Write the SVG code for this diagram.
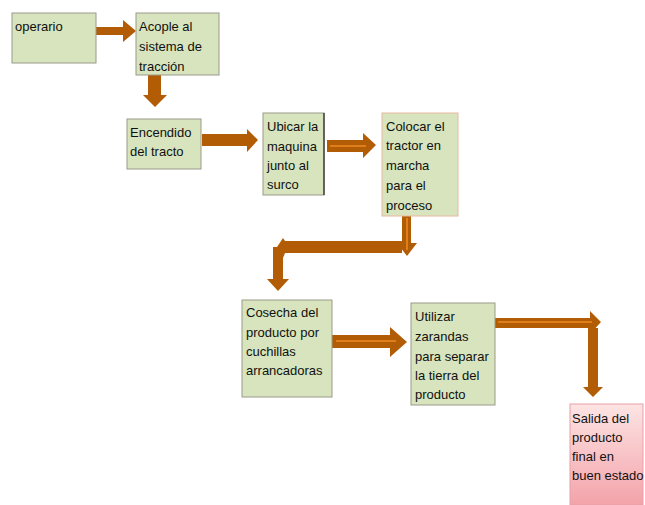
<svg xmlns="http://www.w3.org/2000/svg" width="645" height="505" viewBox="0 0 645 505">
<defs>
<linearGradient id="pink" x1="0" y1="0" x2="0" y2="1">
<stop offset="0" stop-color="#fde4e4"/>
<stop offset="1" stop-color="#f3a3aa"/>
</linearGradient>
</defs>
<style>
.box{fill:#d7e4bd;stroke:#9a9a8a;stroke-width:1}
.t{font-family:"Liberation Sans",Arial,sans-serif;font-size:13px;fill:#111}
.ar{fill:#b35c06}
.hl{stroke:#f08a24;stroke-width:1.5;fill:none}
</style>
<rect width="645" height="505" fill="#ffffff"/>
<g id="connectors">
<polygon class="ar" points="92,27 123,27 123,20 136,31 123,42 123,35 92,35"/>
<polygon class="ar" points="148,75 161,75 161,95 167,95 155,107 143,95 148,95"/>
<polygon class="ar" points="202,134 247,134 247,129 258,140 247,152 247,146 202,146"/>
<polygon class="ar" points="327,140 363,140 363,133 376,145 363,158 363,152 327,152"/>
<line class="hl" x1="330" y1="146" x2="366" y2="146"/>
<polygon class="ar" points="402,215 411,215 411,243 417,243 407,256 397,243 402,243"/>
<line class="hl" x1="407" y1="218" x2="407" y2="250"/>
<polygon class="ar" points="285,241 402,241 402,253 285,253 283,258 277,247 283,238"/>
<polygon class="ar" points="273,247 283,247 283,279 289,279 278,291 267,279 273,279"/>
<polygon class="ar" points="332,335 390,335 390,327 407,342 390,357 390,348 332,348"/>
<line class="hl" x1="336" y1="341" x2="396" y2="341"/>
<polygon class="ar" points="495,318 590,318 590,311 601,322 590,334 590,328 495,328"/>
<line class="hl" x1="498" y1="322" x2="592" y2="322"/>
<polygon class="ar" points="588,328 598,328 598,387 603,387 593,397 583,387 588,387"/>
</g>
<g id="n1">
<rect class="box" x="12" y="13" width="84" height="50"/>
<text class="t" x="15" y="31">operario</text>
</g>
<g id="n2">
<rect class="box" x="136" y="13" width="83" height="62"/>
<text class="t" x="139" y="31">Acople al</text>
<text class="t" x="139" y="51">sistema de</text>
<text class="t" x="139" y="71">tracción</text>
</g>
<g id="n3">
<rect class="box" x="127" y="119" width="74" height="50"/>
<text class="t" x="130" y="137">Encendido</text>
<text class="t" x="130" y="156">del tracto</text>
</g>
<g id="n4">
<rect class="box" x="263" y="113" width="61" height="82"/>
<line x1="324" y1="113" x2="324" y2="195" stroke="#222" stroke-width="1.2"/>
<text class="t" x="267" y="131">Ubicar la</text>
<text class="t" x="267" y="151">maquina</text>
<text class="t" x="267" y="170">junto al</text>
<text class="t" x="267" y="189">surco</text>
</g>
<g id="n5">
<rect class="box" x="382" y="113" width="76" height="103" style="stroke:#e8b8a0"/>
<text class="t" x="386" y="131">Colocar el</text>
<text class="t" x="386" y="150">tractor en</text>
<text class="t" x="386" y="170">marcha</text>
<text class="t" x="386" y="190">para el</text>
<text class="t" x="386" y="210">proceso</text>
</g>
<g id="n6">
<rect class="box" x="242" y="300" width="90" height="97"/>
<text class="t" x="246" y="317">Cosecha del</text>
<text class="t" x="246" y="337">producto por</text>
<text class="t" x="246" y="356">cuchillas</text>
<text class="t" x="246" y="375">arrancadoras</text>
</g>
<g id="n7">
<rect class="box" x="411" y="303" width="84" height="102"/>
<text class="t" x="415" y="321">Utilizar</text>
<text class="t" x="415" y="341">zarandas</text>
<text class="t" x="415" y="361">para separar</text>
<text class="t" x="415" y="380">la tierra del</text>
<text class="t" x="415" y="399">producto</text>
</g>
<g id="n8">
<rect x="570" y="404" width="73" height="101" fill="url(#pink)" stroke="#e6a0a8" stroke-width="1"/>
<text class="t" x="572" y="423">Salida del</text>
<text class="t" x="572" y="442">producto</text>
<text class="t" x="572" y="461">final en</text>
<text class="t" x="572" y="480">buen estado</text>
</g>
</svg>
